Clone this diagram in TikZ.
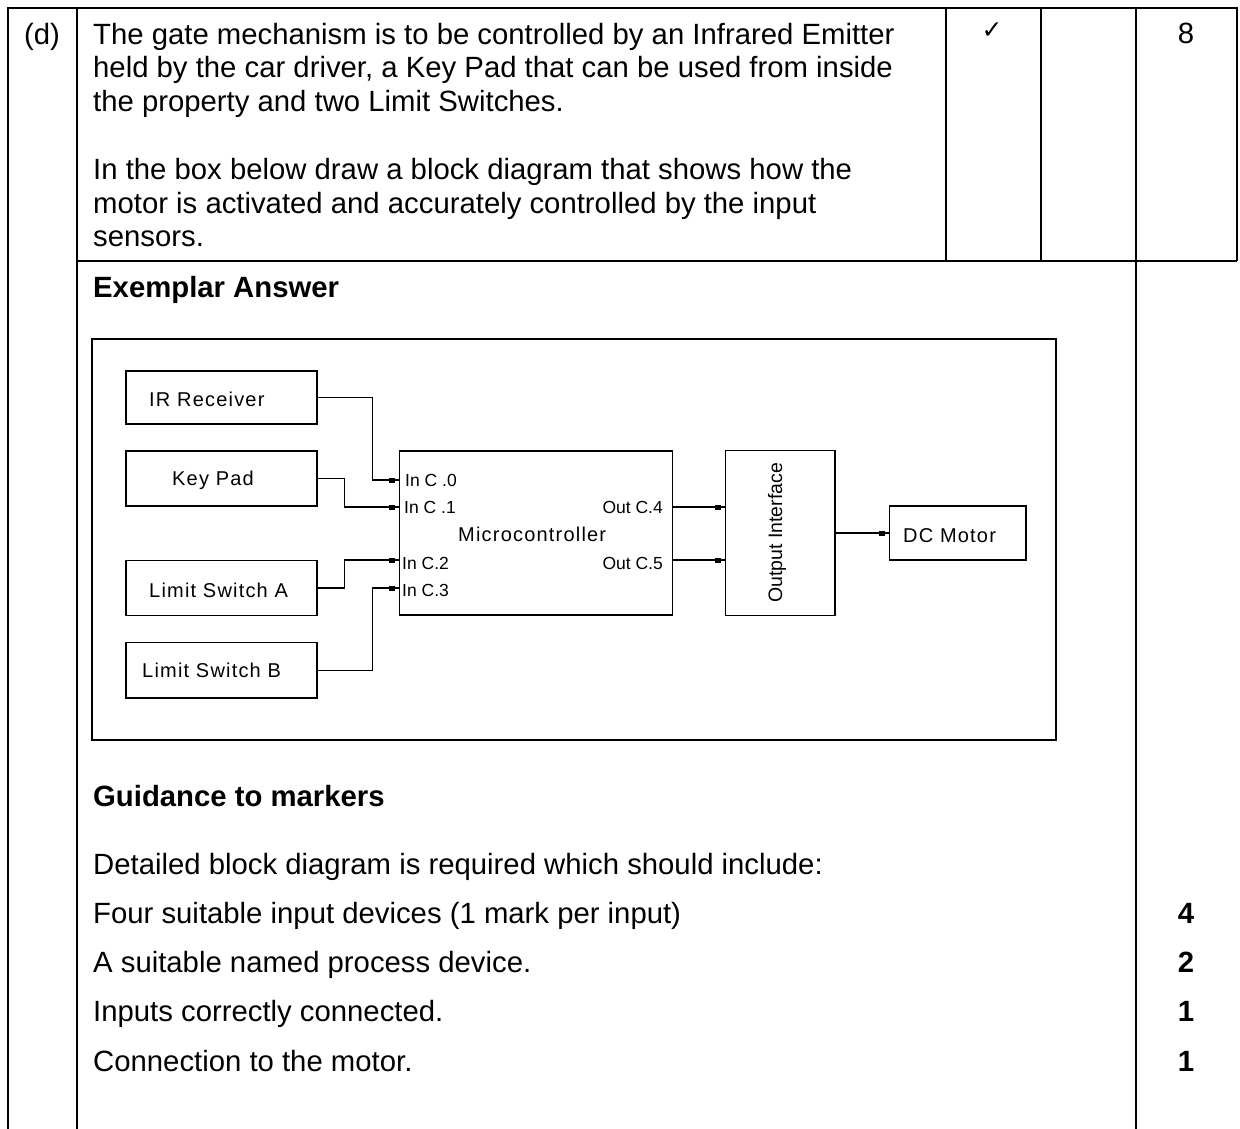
\documentclass[tikz,border=0pt]{standalone}
\usepackage{fontspec}
\setmainfont{Liberation Sans}
\newfontfamily\symfont{DejaVu Sans}
\newfontfamily\spaced[LetterSpace=6]{Liberation Sans}
\begin{document}
\begin{tikzpicture}[x=1pt,y=-1pt,
  tbl/.style={line width=2.2pt},
  txt/.style={anchor=base west, inner sep=0pt, font=\fontsize{29.3}{34}\selectfont},
  btxt/.style={anchor=base west, inner sep=0pt, font=\fontsize{29.3}{34}\selectfont\bfseries},
  marknum/.style={anchor=base, inner sep=0pt, font=\fontsize{29.3}{34}\selectfont\bfseries},
  blk/.style={draw, line width=1.3pt, inner sep=0pt},
  lbl/.style={anchor=base west, inner sep=0pt, font=\spaced\fontsize{20}{24}\selectfont},
  port/.style={anchor=base west, inner sep=0pt, font=\fontsize{17.5}{20}\selectfont},
  wire/.style={line width=1.3pt},
  tipbox/.style={fill=black}
]
\useasboundingbox (0,0) rectangle (1240,1129);
% table
\draw[tbl] (8,1129) -- (8,8) -- (1237,8) -- (1237,261);
\draw[tbl] (77,8) -- (77,1129);
\draw[tbl] (1136,8) -- (1136,1129);
\draw[tbl] (946,8) -- (946,261);
\draw[tbl] (1041,8) -- (1041,261);
\draw[tbl] (77,261) -- (1237,261);
% header texts
\node[txt] (d) at (24,44.5) {(d)};
\node[txt] (q1) at (93,44.5) {The gate mechanism is to be controlled by an Infrared Emitter};
\node[txt] (q2) at (93,78) {held by the car driver, a Key Pad that can be used from inside};
\node[txt] (q3) at (93,111.5) {the property and two Limit Switches.};
\node[txt] (q4) at (93,179.5) {In the box below draw a block diagram that shows how the};
\node[txt] (q5) at (93,213) {motor is activated and accurately controlled by the input};
\node[txt] (q6) at (93,246.5) {sensors.};
\node[inner sep=0pt, font=\symfont\fontsize{25}{28}\selectfont] (tick) at (992,31) {✓};
\node[anchor=base, inner sep=0pt, font=\fontsize{29.3}{34}\selectfont] (eight) at (1186,44) {8};
\node[btxt] (ex) at (93,297.5) {Exemplar Answer};
% diagram frame
\draw[line width=1.3pt] (92,339) rectangle (1056,740);
% blocks
\node[blk, minimum width=191pt, minimum height=53pt] (ir) at (221.5,397.5) {};
\node[blk, minimum width=191pt, minimum height=55pt] (kp) at (221.5,478.5) {};
\node[blk, minimum width=191pt, minimum height=55.5pt] (la) at (221.5,588) {};
\node[blk, minimum width=191pt, minimum height=55.3pt] (lb) at (221.5,670.3) {};
\node[blk, minimum width=273.4pt, minimum height=164pt] (mc) at (536,533) {};
\node[blk, minimum width=109.3pt, minimum height=164.7pt] (oi) at (780.3,533) {};
\node[blk, minimum width=136.3pt, minimum height=54pt] (dc) at (957.8,533) {};
% block labels
\node[lbl] (tir) at (149,406) {IR Receiver};
\node[lbl] (tkp) at (172,485) {Key Pad};
\node[lbl] (tla) at (149,597) {Limit Switch A};
\node[lbl] (tlb) at (142,677) {Limit Switch B};
\node[lbl] (tmc) at (458,541) {Microcontroller};
\node[lbl] (tdc) at (903,542) {DC Motor};
\node[inner sep=0pt, rotate=90, font=\fontsize{19.5}{24}\selectfont] (toi) at (777,533) {Output Interface};
% ports
\node[port] (pl0) at (405,486) {In C .0};
\node[port] (pl1) at (404,513) {In C .1};
\node[port] (pl2) at (402,569) {In C.2};
\node[port] (pl3) at (402,596) {In C.3};
\node[port, anchor=base east] (pl4) at (663,513) {Out C.4};
\node[port, anchor=base east] (pl5) at (663,569) {Out C.5};
% port coordinates
\coordinate (p0) at (mc.west |- 0,480);
\coordinate (p1) at (mc.west |- 0,507);
\coordinate (p2) at (mc.west |- 0,560);
\coordinate (p3) at (mc.west |- 0,588);
\coordinate (o4) at (oi.west |- p1);
\coordinate (o5) at (oi.west |- p2);
% wires
\draw[wire] (ir.east) -- ++(55,0) |- (p0);
\draw[wire] (kp.east) -- ++(27,0) |- (p1);
\draw[wire] (la.east) -- ++(27,0) |- (p2);
\draw[wire] (lb.east) -- ++(55,0) |- (p3);
\draw[wire] (mc.east |- p1) -- (o4);
\draw[wire] (mc.east |- p2) -- (o5);
\draw[wire] (oi.east |- dc.west) -- (dc.west);
% markers
\foreach \c in {p0,p1,p2,p3,o4,o5,dc.west}{
  \fill[tipbox, shift={(\c)}] (-10,-2.5) rectangle (-4,2.5);
}
% guidance
\node[btxt] (gd) at (93,806.5) {Guidance to markers};
\node[txt] (g1) at (93,874) {Detailed block diagram is required which should include:};
\node[txt] (g2) at (93,923) {Four suitable input devices (1 mark per input)};
\node[txt] (g3) at (93,972) {A suitable named process device.};
\node[txt] (g4) at (93,1021) {Inputs correctly connected.};
\node[txt] (g5) at (93,1071) {Connection to the motor.};
\node[marknum] (m2) at (1186,923) {4};
\node[marknum] (m3) at (1186,972) {2};
\node[marknum] (m4) at (1186,1021) {1};
\node[marknum] (m5) at (1186,1071) {1};
\end{tikzpicture}
\end{document}
